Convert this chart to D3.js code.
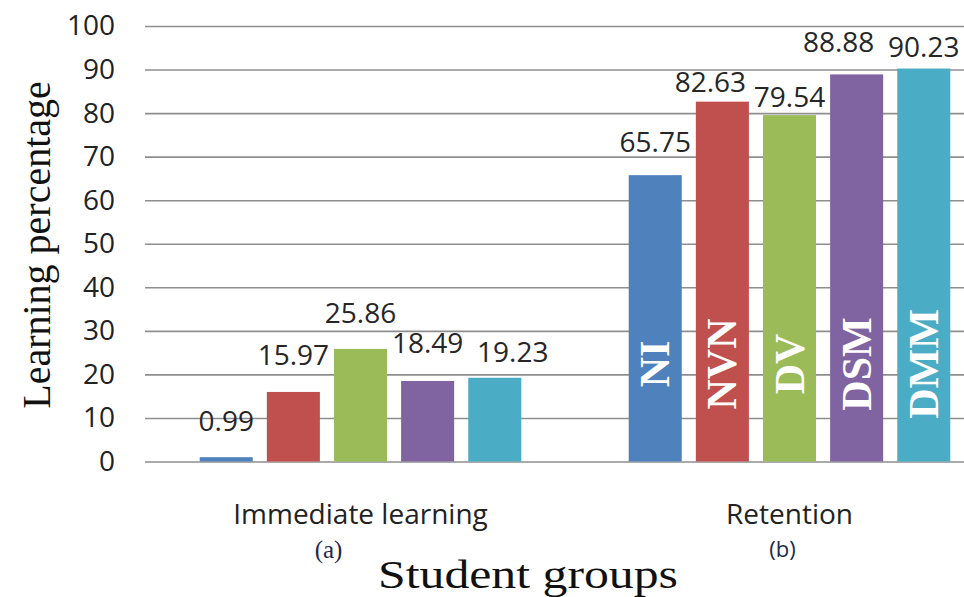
<!DOCTYPE html>
<html>
<head>
<meta charset="utf-8">
<script src="https://cdn.jsdelivr.net/npm/d3@7"></script>
<style>
  html, body { margin: 0; padding: 0; background: #fff; }
  svg { display: block; }
</style>
</head>
<body>
<svg id="chart"></svg>
<script>
// Data
const groups = ["Immediate learning", "Retention"];
const groupTags = ["(a)", "(b)"];
const series = ["NI", "NVN", "DV", "DSM", "DMM"];
const immediateValues = [0.99, 15.97, 25.86, 18.49, 19.23];
const retentionValues = [65.75, 82.63, 79.54, 88.88, 90.23];
const yTicks = [0, 10, 20, 30, 40, 50, 60, 70, 80, 90, 100];

const colors = ["#4F81BD", "#C0504D", "#9BBB59", "#8064A2", "#4BACC6"];

// hand-placed value labels in the original (pixel nudges, [dx, dy])
const labelNudge = [
  [[0, 0], [0, -1], [0, 0], [0, -2], [18, 10]],
  [[0, 3], [-12, 16], [0, 18], [-18, 4], [0, 14]]
];

const width = 964, height = 597;
const svg = d3.select("#chart").attr("width", width).attr("height", height);

const plotLeft = 145, plotRight = 964;

const y = d3.scaleLinear().domain([0, 100]).range([461.5, 26]);

const x0 = d3.scaleBand().domain(groups).range([146, 1004]);
const x1 = d3.scaleBand().domain(series)
  .range([0, x0.bandwidth()])
  .paddingInner(0.21)
  .paddingOuter(0.8);

const rows = [];
[immediateValues, retentionValues].forEach((vals, gi) => {
  vals.forEach((v, si) => {
    rows.push({ group: groups[gi], gi, si, name: series[si], value: v });
  });
});

// gridlines + tick labels
const yAxis = svg.append("g")
  .attr("transform", `translate(${plotLeft},0)`)
  .call(d3.axisLeft(y)
    .tickValues(yTicks)
    .tickSize(-(plotRight - plotLeft))
    .tickPadding(30));

yAxis.select(".domain").remove();
yAxis.selectAll(".tick line")
  .attr("stroke", "#8e8e8e")
  .attr("stroke-width", 1.6);
yAxis.selectAll(".tick text")
  .attr("fill", "#222")
  .attr("font-family", "'Open Sans', sans-serif")
  .attr("font-size", "28px");

// bars
svg.append("g")
  .selectAll("rect")
  .data(rows)
  .join("rect")
  .attr("x", d => x0(d.group) + x1(d.name))
  .attr("y", d => y(d.value))
  .attr("width", x1.bandwidth())
  .attr("height", d => y(0) - y(d.value))
  .attr("fill", d => colors[d.si]);

// value labels
svg.append("g")
  .selectAll("text")
  .data(rows)
  .join("text")
  .attr("x", d => x0(d.group) + x1(d.name) + x1.bandwidth() / 2 + labelNudge[d.gi][d.si][0])
  .attr("y", d => y(d.value) - 26 + labelNudge[d.gi][d.si][1])
  .attr("text-anchor", "middle")
  .attr("fill", "#262626")
  .attr("font-family", "'Open Sans', sans-serif")
  .attr("font-size", "28px")
  .text(d => d.value.toFixed(2));

// series names written inside the retention bars
svg.append("g")
  .selectAll("text")
  .data(rows.filter(d => d.gi === 1))
  .join("text")
  .attr("transform", d =>
    `translate(${x0(d.group) + x1(d.name) + x1.bandwidth() / 2 + 14},364) rotate(-90)`)
  .attr("text-anchor", "middle")
  .attr("fill", "#fff")
  .attr("font-family", "'Liberation Serif', 'Times New Roman', serif")
  .attr("font-weight", "bold")
  .attr("font-size", "42px")
  .text(d => d.name);

// category labels
svg.append("g")
  .selectAll("text")
  .data(groups)
  .join("text")
  .attr("x", d => x0(d) + x0.bandwidth() / 2)
  .attr("y", 524)
  .attr("text-anchor", "middle")
  .attr("fill", "#222")
  .attr("font-family", "'Open Sans', sans-serif")
  .attr("font-size", "28px")
  .text(d => d);

// (a) / (b) tags under the categories
svg.append("text")
  .attr("x", x0(groups[0]) + x0.bandwidth() / 2 - 32)
  .attr("y", 558)
  .attr("text-anchor", "middle")
  .attr("fill", "#1d2b4c")
  .attr("font-family", "'Liberation Serif', serif")
  .attr("font-size", "25px")
  .text(groupTags[0]);

svg.append("text")
  .attr("x", x0(groups[1]) + x0.bandwidth() / 2 - 7)
  .attr("y", 557)
  .attr("text-anchor", "middle")
  .attr("fill", "#1d2b4c")
  .attr("font-family", "'Open Sans', sans-serif")
  .attr("font-size", "22px")
  .text(groupTags[1]);

// axis titles
svg.append("text")
  .attr("x", 528)
  .attr("y", 588)
  .attr("text-anchor", "middle")
  .attr("fill", "#111")
  .attr("font-family", "'Liberation Serif', serif")
  .attr("font-size", "40px")
  .attr("textLength", 300)
  .attr("lengthAdjust", "spacingAndGlyphs")
  .text("Student groups");

svg.append("text")
  .attr("transform", "translate(50,245) rotate(-90)")
  .attr("text-anchor", "middle")
  .attr("fill", "#111")
  .attr("font-family", "'Liberation Serif', serif")
  .attr("font-size", "40px")
  .text("Learning percentage");
</script>
</body>
</html>
